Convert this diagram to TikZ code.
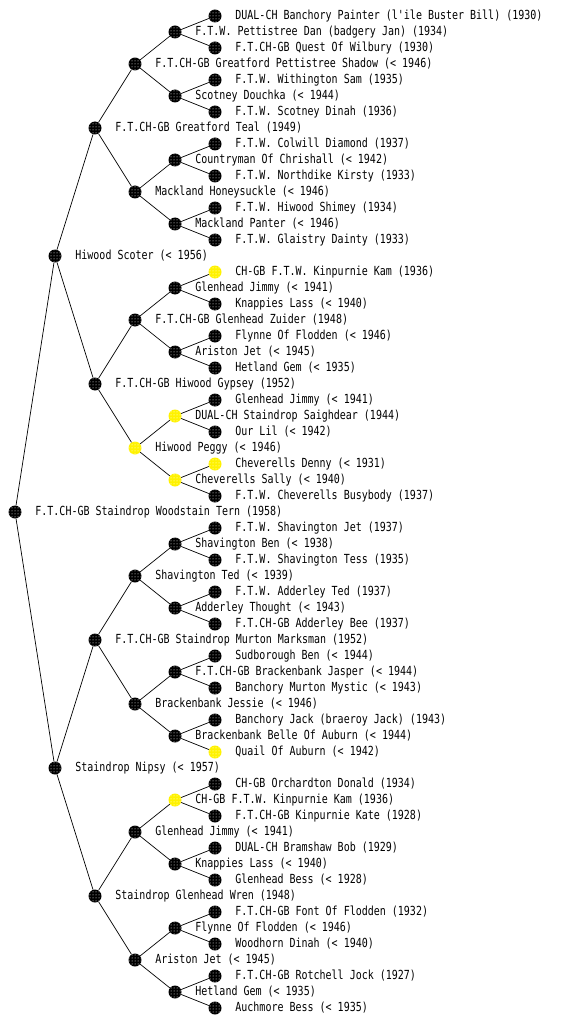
\documentclass[tikz,border=0pt]{standalone}
\usepackage{fontspec}
\newfontfamily\dogfont[FakeStretch=0.8]{DejaVu Sans Mono}
\usetikzlibrary{patterns}

\begin{document}
\begin{tikzpicture}[x=1pt, y=-1pt,
        dog/.style={circle, inner sep=0pt, minimum size=13pt, preaction={fill=#1},
            pattern=dots, pattern color=white},
        dog/.default=black,
        every label/.style={font=\dogfont\fontsize{12.5}{14}\selectfont, inner sep=0pt, xshift=13.5pt}]
        % --- 1. Parameters ---
        \def\genA{15}   % column of each generation
        \def\genB{55}
        \def\genC{95}
        \def\genD{135}
        \def\genE{175}
        \def\genF{215}

        \useasboundingbox (0,0) rectangle (560,1024);

        % --- 2. The dog itself ---
        \node[dog, label={[name=t-t]right:F.T.CH-GB Staindrop Woodstain Tern (1958)}] (t) at (\genA,512) {};

        % --- 3. Parents ---
        \node[dog, label={[name=ts-t]right:Hiwood Scoter (< 1956)}] (ts) at (\genB,256) {};
        \node[dog, label={[name=td-t]right:Staindrop Nipsy (< 1957)}] (td) at (\genB,768) {};

        % --- 4. Grandparents ---
        \node[dog, label={[name=tss-t]right:F.T.CH-GB Greatford Teal (1949)}] (tss) at (\genC,128) {};
        \node[dog, label={[name=tsd-t]right:F.T.CH-GB Hiwood Gypsey (1952)}] (tsd) at (\genC,384) {};
        \node[dog, label={[name=tds-t]right:F.T.CH-GB Staindrop Murton Marksman (1952)}] (tds) at (\genC,640) {};
        \node[dog, label={[name=tdd-t]right:Staindrop Glenhead Wren (1948)}] (tdd) at (\genC,896) {};

        % --- 5. Great-grandparents ---
        \node[dog, label={[name=tsss-t]right:F.T.CH-GB Greatford Pettistree Shadow (< 1946)}] (tsss) at (\genD,64) {};
        \node[dog, label={[name=tssd-t]right:Mackland Honeysuckle (< 1946)}] (tssd) at (\genD,192) {};
        \node[dog, label={[name=tsds-t]right:F.T.CH-GB Glenhead Zuider (1948)}] (tsds) at (\genD,320) {};
        \node[dog=yellow, label={[name=tsdd-t]right:Hiwood Peggy (< 1946)}] (tsdd) at (\genD,448) {};
        \node[dog, label={[name=tdss-t]right:Shavington Ted (< 1939)}] (tdss) at (\genD,576) {};
        \node[dog, label={[name=tdsd-t]right:Brackenbank Jessie (< 1946)}] (tdsd) at (\genD,704) {};
        \node[dog, label={[name=tdds-t]right:Glenhead Jimmy (< 1941)}] (tdds) at (\genD,832) {};
        \node[dog, label={[name=tddd-t]right:Ariston Jet (< 1945)}] (tddd) at (\genD,960) {};

        % --- 6. Generation four ---
        \node[dog, label={[name=tssss-t]right:F.T.W. Pettistree Dan (badgery Jan) (1934)}] (tssss) at (\genE,32) {};
        \node[dog, label={[name=tsssd-t]right:Scotney Douchka (< 1944)}] (tsssd) at (\genE,96) {};
        \node[dog, label={[name=tssds-t]right:Countryman Of Chrishall (< 1942)}] (tssds) at (\genE,160) {};
        \node[dog, label={[name=tssdd-t]right:Mackland Panter (< 1946)}] (tssdd) at (\genE,224) {};
        \node[dog, label={[name=tsdss-t]right:Glenhead Jimmy (< 1941)}] (tsdss) at (\genE,288) {};
        \node[dog, label={[name=tsdsd-t]right:Ariston Jet (< 1945)}] (tsdsd) at (\genE,352) {};
        \node[dog=yellow, label={[name=tsdds-t]right:DUAL-CH Staindrop Saighdear (1944)}] (tsdds) at (\genE,416) {};
        \node[dog=yellow, label={[name=tsddd-t]right:Cheverells Sally (< 1940)}] (tsddd) at (\genE,480) {};
        \node[dog, label={[name=tdsss-t]right:Shavington Ben (< 1938)}] (tdsss) at (\genE,544) {};
        \node[dog, label={[name=tdssd-t]right:Adderley Thought (< 1943)}] (tdssd) at (\genE,608) {};
        \node[dog, label={[name=tdsds-t]right:F.T.CH-GB Brackenbank Jasper (< 1944)}] (tdsds) at (\genE,672) {};
        \node[dog, label={[name=tdsdd-t]right:Brackenbank Belle Of Auburn (< 1944)}] (tdsdd) at (\genE,736) {};
        \node[dog=yellow, label={[name=tddss-t]right:CH-GB F.T.W. Kinpurnie Kam (1936)}] (tddss) at (\genE,800) {};
        \node[dog, label={[name=tddsd-t]right:Knappies Lass (< 1940)}] (tddsd) at (\genE,864) {};
        \node[dog, label={[name=tddds-t]right:Flynne Of Flodden (< 1946)}] (tddds) at (\genE,928) {};
        \node[dog, label={[name=tdddd-t]right:Hetland Gem (< 1935)}] (tdddd) at (\genE,992) {};

        % --- 7. Generation five ---
        \node[dog, label={[name=tsssss-t]right:DUAL-CH Banchory Painter (l'ile Buster Bill) (1930)}] (tsssss) at (\genF,16) {};
        \node[dog, label={[name=tssssd-t]right:F.T.CH-GB Quest Of Wilbury (1930)}] (tssssd) at (\genF,48) {};
        \node[dog, label={[name=tsssds-t]right:F.T.W. Withington Sam (1935)}] (tsssds) at (\genF,80) {};
        \node[dog, label={[name=tsssdd-t]right:F.T.W. Scotney Dinah (1936)}] (tsssdd) at (\genF,112) {};
        \node[dog, label={[name=tssdss-t]right:F.T.W. Colwill Diamond (1937)}] (tssdss) at (\genF,144) {};
        \node[dog, label={[name=tssdsd-t]right:F.T.W. Northdike Kirsty (1933)}] (tssdsd) at (\genF,176) {};
        \node[dog, label={[name=tssdds-t]right:F.T.W. Hiwood Shimey (1934)}] (tssdds) at (\genF,208) {};
        \node[dog, label={[name=tssddd-t]right:F.T.W. Glaistry Dainty (1933)}] (tssddd) at (\genF,240) {};
        \node[dog=yellow, label={[name=tsdsss-t]right:CH-GB F.T.W. Kinpurnie Kam (1936)}] (tsdsss) at (\genF,272) {};
        \node[dog, label={[name=tsdssd-t]right:Knappies Lass (< 1940)}] (tsdssd) at (\genF,304) {};
        \node[dog, label={[name=tsdsds-t]right:Flynne Of Flodden (< 1946)}] (tsdsds) at (\genF,336) {};
        \node[dog, label={[name=tsdsdd-t]right:Hetland Gem (< 1935)}] (tsdsdd) at (\genF,368) {};
        \node[dog, label={[name=tsddss-t]right:Glenhead Jimmy (< 1941)}] (tsddss) at (\genF,400) {};
        \node[dog, label={[name=tsddsd-t]right:Our Lil (< 1942)}] (tsddsd) at (\genF,432) {};
        \node[dog=yellow, label={[name=tsddds-t]right:Cheverells Denny (< 1931)}] (tsddds) at (\genF,464) {};
        \node[dog, label={[name=tsdddd-t]right:F.T.W. Cheverells Busybody (1937)}] (tsdddd) at (\genF,496) {};
        \node[dog, label={[name=tdssss-t]right:F.T.W. Shavington Jet (1937)}] (tdssss) at (\genF,528) {};
        \node[dog, label={[name=tdsssd-t]right:F.T.W. Shavington Tess (1935)}] (tdsssd) at (\genF,560) {};
        \node[dog, label={[name=tdssds-t]right:F.T.W. Adderley Ted (1937)}] (tdssds) at (\genF,592) {};
        \node[dog, label={[name=tdssdd-t]right:F.T.CH-GB Adderley Bee (1937)}] (tdssdd) at (\genF,624) {};
        \node[dog, label={[name=tdsdss-t]right:Sudborough Ben (< 1944)}] (tdsdss) at (\genF,656) {};
        \node[dog, label={[name=tdsdsd-t]right:Banchory Murton Mystic (< 1943)}] (tdsdsd) at (\genF,688) {};
        \node[dog, label={[name=tdsdds-t]right:Banchory Jack (braeroy Jack) (1943)}] (tdsdds) at (\genF,720) {};
        \node[dog=yellow, label={[name=tdsddd-t]right:Quail Of Auburn (< 1942)}] (tdsddd) at (\genF,752) {};
        \node[dog, label={[name=tddsss-t]right:CH-GB Orchardton Donald (1934)}] (tddsss) at (\genF,784) {};
        \node[dog, label={[name=tddssd-t]right:F.T.CH-GB Kinpurnie Kate (1928)}] (tddssd) at (\genF,816) {};
        \node[dog, label={[name=tddsds-t]right:DUAL-CH Bramshaw Bob (1929)}] (tddsds) at (\genF,848) {};
        \node[dog, label={[name=tddsdd-t]right:Glenhead Bess (< 1928)}] (tddsdd) at (\genF,880) {};
        \node[dog, label={[name=tdddss-t]right:F.T.CH-GB Font Of Flodden (1932)}] (tdddss) at (\genF,912) {};
        \node[dog, label={[name=tdddsd-t]right:Woodhorn Dinah (< 1940)}] (tdddsd) at (\genF,944) {};
        \node[dog, label={[name=tdddds-t]right:F.T.CH-GB Rotchell Jock (1927)}] (tdddds) at (\genF,976) {};
        \node[dog, label={[name=tddddd-t]right:Auchmore Bess (< 1935)}] (tddddd) at (\genF,1008) {};

        % --- 8. Links: every dog to its sire (s) and dam (d) ---
        \foreach \n in {t,ts,td,tss,tsd,tds,tdd,tsss,tssd,tsds,tsdd,tdss,tdsd,tdds,tddd,
                tssss,tsssd,tssds,tssdd,tsdss,tsdsd,tsdds,tsddd,
                tdsss,tdssd,tdsds,tdsdd,tddss,tddsd,tddds,tdddd}
            \draw[line width=0.7pt] (\n) -- (\n s) (\n) -- (\n d);

    \end{tikzpicture}
\end{document}
